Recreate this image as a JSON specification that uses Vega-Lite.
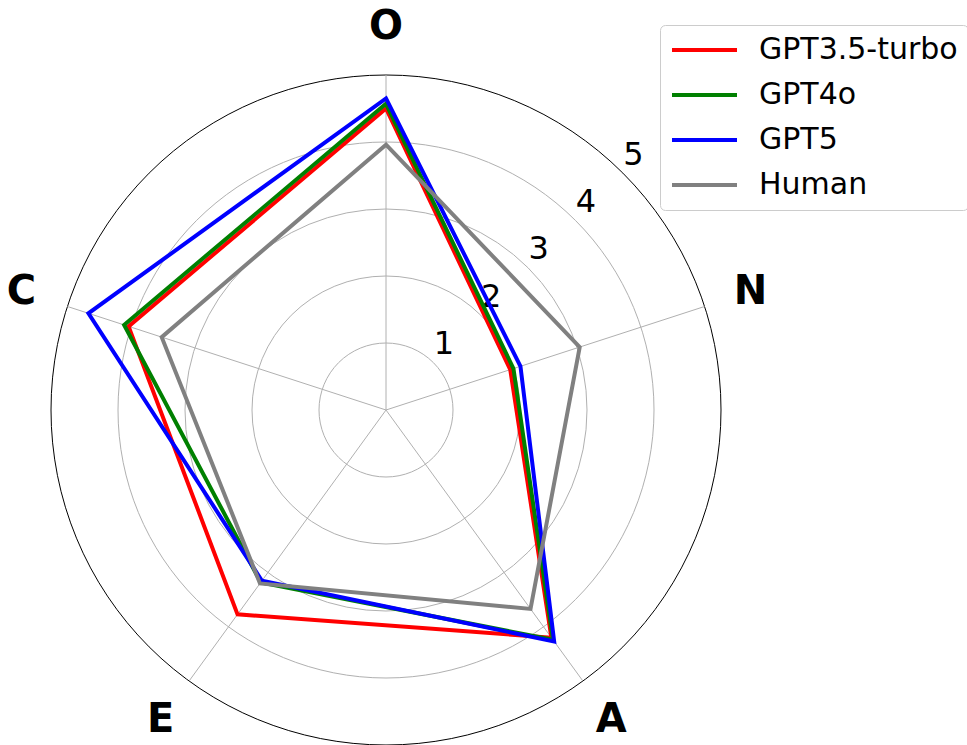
{
  "$schema": "https://vega.github.io/schema/vega-lite/v6.json",
  "width": 670,
  "height": 670,
  "autosize": {"type": "none"},
  "padding": {"left": 51, "top": 75, "right": 246, "bottom": 0},
  "background": "white",
  "config": {
    "view": {"stroke": null},
    "font": "DejaVu Sans",
    "text": {"font": "DejaVu Sans"}
  },
  "datasets": {
    "scores": [
      {"model": "GPT3.5-turbo", "trait": "O", "value": 4.5},
      {"model": "GPT3.5-turbo", "trait": "N", "value": 1.95},
      {"model": "GPT3.5-turbo", "trait": "A", "value": 4.2},
      {"model": "GPT3.5-turbo", "trait": "E", "value": 3.77},
      {"model": "GPT3.5-turbo", "trait": "C", "value": 4.04},
      {"model": "GPT4o", "trait": "O", "value": 4.57},
      {"model": "GPT4o", "trait": "N", "value": 2.0},
      {"model": "GPT4o", "trait": "A", "value": 4.24},
      {"model": "GPT4o", "trait": "E", "value": 3.18},
      {"model": "GPT4o", "trait": "C", "value": 4.11},
      {"model": "GPT5", "trait": "O", "value": 4.65},
      {"model": "GPT5", "trait": "N", "value": 2.11},
      {"model": "GPT5", "trait": "A", "value": 4.27},
      {"model": "GPT5", "trait": "E", "value": 3.15},
      {"model": "GPT5", "trait": "C", "value": 4.67},
      {"model": "Human", "trait": "O", "value": 3.96},
      {"model": "Human", "trait": "N", "value": 3.04},
      {"model": "Human", "trait": "A", "value": 3.67},
      {"model": "Human", "trait": "E", "value": 3.2},
      {"model": "Human", "trait": "C", "value": 3.52}
    ],
    "traits": [
      {"trait": "O"}, {"trait": "N"}, {"trait": "A"}, {"trait": "E"}, {"trait": "C"}
    ],
    "rings": [
      {"r": 1}, {"r": 2}, {"r": 3}, {"r": 4}, {"r": 5}
    ]
  },
  "layer": [
    {
      "data": {"name": "rings"},
      "mark": {"type": "arc", "filled": false, "strokeWidth": 1, "theta": 0, "theta2": 6.2832},
      "encoding": {
        "radius": {"field": "r", "type": "quantitative", "stack": null, "scale": {"type": "linear", "domain": [0, 5], "range": [0, 335], "zero": true}},
        "stroke": {"condition": {"test": "datum.r == 5", "value": "black"}, "value": "#b0b0b0"}
      }
    },
    {
      "data": {"name": "traits"},
      "transform": [
        {"calculate": "indexof(['O','N','A','E','C'], datum.trait)", "as": "idx"},
        {"calculate": "PI/2 - datum.idx*2*PI/5", "as": "ang"},
        {"calculate": "0", "as": "cx"},
        {"calculate": "5*cos(datum.ang)", "as": "sx"},
        {"calculate": "5*sin(datum.ang)", "as": "sy"}
      ],
      "mark": {"type": "rule", "color": "#b0b0b0", "strokeWidth": 1},
      "encoding": {
        "x": {"field": "cx", "type": "quantitative", "scale": {"domain": [-5, 5], "nice": false, "zero": false}, "axis": null},
        "y": {"field": "cx", "type": "quantitative", "scale": {"domain": [-5, 5], "nice": false, "zero": false}, "axis": null},
        "x2": {"field": "sx"},
        "y2": {"field": "sy"}
      }
    },
    {
      "data": {"name": "rings"},
      "transform": [
        {"calculate": "datum.r*cos(PI/4)", "as": "lx"},
        {"calculate": "datum.r*sin(PI/4)", "as": "ly"}
      ],
      "mark": {"type": "text", "fontSize": 32, "color": "black", "align": "center", "baseline": "middle", "dx": 10.5, "dy": -18.5},
      "encoding": {
        "x": {"field": "lx", "type": "quantitative", "scale": {"domain": [-5, 5], "nice": false, "zero": false}, "axis": null},
        "y": {"field": "ly", "type": "quantitative", "scale": {"domain": [-5, 5], "nice": false, "zero": false}, "axis": null},
        "text": {"field": "r", "type": "nominal"}
      }
    },
    {
      "data": {"name": "traits"},
      "transform": [
        {"calculate": "indexof(['O','N','A','E','C'], datum.trait)", "as": "idx"},
        {"calculate": "PI/2 - datum.idx*2*PI/5", "as": "ang"},
        {"calculate": "5.72*cos(datum.ang)", "as": "tx"},
        {"calculate": "5.72*sin(datum.ang)", "as": "ty"}
      ],
      "mark": {"type": "text", "fontSize": 40, "fontWeight": "bold", "color": "black", "align": "center", "baseline": "middle"},
      "encoding": {
        "x": {"field": "tx", "type": "quantitative", "scale": {"domain": [-5, 5], "nice": false, "zero": false}, "axis": null},
        "y": {"field": "ty", "type": "quantitative", "scale": {"domain": [-5, 5], "nice": false, "zero": false}, "axis": null},
        "text": {"field": "trait", "type": "nominal"}
      }
    },
    {
      "data": {"name": "scores"},
      "transform": [
        {"calculate": "indexof(['O','N','A','E','C'], datum.trait)", "as": "idx"},
        {"calculate": "PI/2 - datum.idx*2*PI/5", "as": "ang"},
        {"calculate": "datum.value*cos(datum.ang)", "as": "px"},
        {"calculate": "datum.value*sin(datum.ang)", "as": "py"}
      ],
      "mark": {"type": "line", "interpolate": "linear-closed", "strokeWidth": 4, "strokeJoin": "miter"},
      "encoding": {
        "x": {"field": "px", "type": "quantitative", "scale": {"domain": [-5, 5], "nice": false, "zero": false}, "axis": null},
        "y": {"field": "py", "type": "quantitative", "scale": {"domain": [-5, 5], "nice": false, "zero": false}, "axis": null},
        "order": {"field": "idx", "type": "quantitative"},
        "color": {
          "field": "model",
          "type": "nominal",
          "scale": {"domain": ["GPT3.5-turbo", "GPT4o", "GPT5", "Human"], "range": ["#ff0000", "#008000", "#0000ff", "#808080"]},
          "legend": {
            "title": null,
            "orient": "none",
            "legendX": 609,
            "legendY": -50,
            "symbolType": "stroke",
            "symbolSize": 4225,
            "symbolStrokeWidth": 4,
            "clipHeight": 30,
            "labelFontSize": 30,
            "labelFont": "DejaVu Sans",
            "labelColor": "black",
            "labelLimit": 0,
            "labelOffset": 20,
            "padding": 10,
            "strokeColor": "#cccccc",
            "fillColor": "white",
            "cornerRadius": 5,
            "rowPadding": 15
          }
        }
      }
    }
  ]
}
